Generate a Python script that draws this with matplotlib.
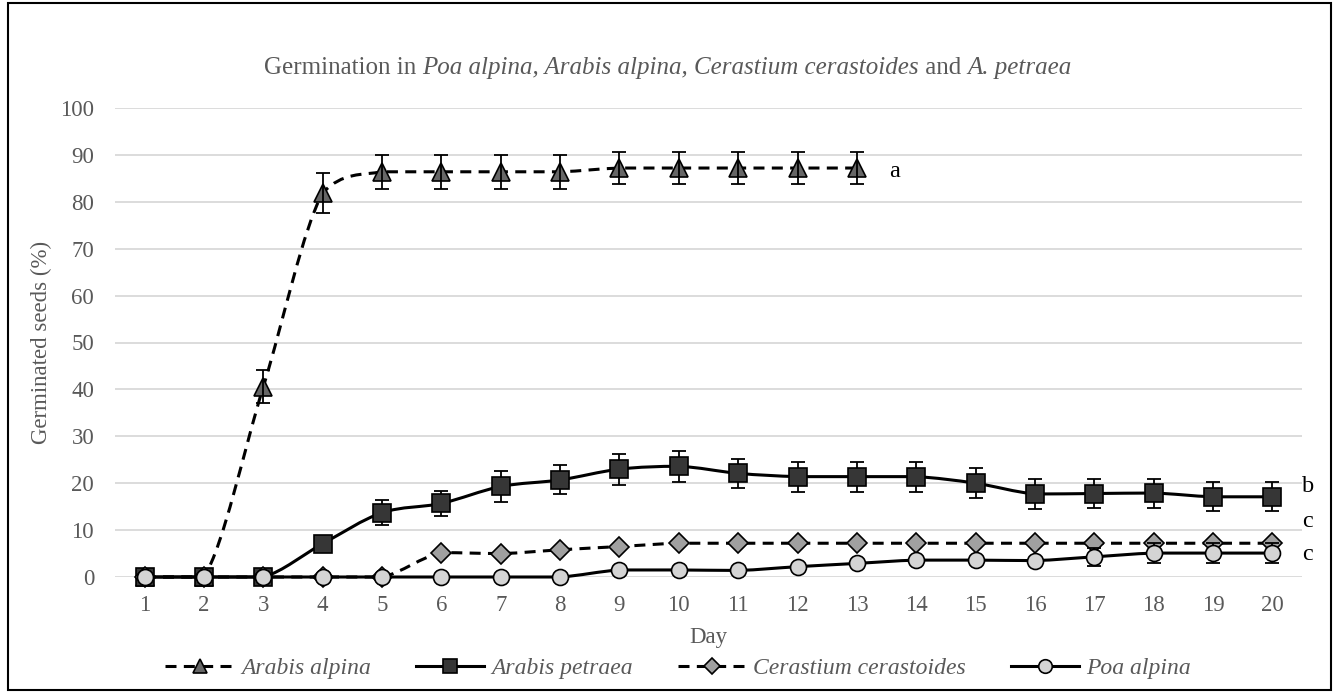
import numpy as np
import matplotlib
matplotlib.use("Agg")
import matplotlib.pyplot as plt
from matplotlib.path import Path
from matplotlib.patches import PathPatch, Rectangle
from matplotlib.lines import Line2D

plt.rcParams['font.family'] = ['Liberation Serif', 'DejaVu Serif']

GREY_TEXT = '#595959'
FS = 16.5

days = list(range(1, 21))

# Arabis alpina stops after day 13
alpina_days = list(range(1, 14))
alpina = [0, 0, 40.6, 81.9, 86.4, 86.4, 86.4, 86.4, 87.2, 87.2, 87.2, 87.2, 87.2]
alpina_err = [0, 0, 3.5, 4.3, 3.6, 3.6, 3.6, 3.6, 3.5, 3.5, 3.5, 3.5, 3.5]

petraea = [0, 0, 0, 7.1, 13.7, 15.7, 19.3, 20.7, 23.0, 23.6, 22.1, 21.4, 21.4,
           21.4, 20.0, 17.7, 17.8, 17.9, 17.1, 17.1]
petraea_err = [0, 0, 0, 0, 2.7, 2.7, 3.3, 3.1, 3.3, 3.3, 3.1, 3.2, 3.2,
               3.2, 3.2, 3.1, 3.1, 3.1, 3.1, 3.1]

cerastium = [0, 0, 0, 0, 0, 5.2, 5.0, 5.8, 6.5, 7.2, 7.2, 7.2, 7.2,
             7.2, 7.2, 7.2, 7.2, 7.2, 7.2, 7.2]
cerastium_err = [0] * 20

poa = [0, 0, 0, 0, 0, 0, 0, 0, 1.5, 1.5, 1.4, 2.2, 2.9,
       3.6, 3.6, 3.5, 4.3, 5.1, 5.1, 5.1]
poa_err = [0, 0, 0, 0, 0, 0, 0, 0, 0, 0, 0, 0, 0,
           0, 0, 0, 1.9, 2.2, 2.2, 2.2]

# letters from the significance test, (day position, height, letter)
sig_x = [13.55, 20.5, 20.5, 20.5]
sig_y = [86.5, 19.3, 11.8, 4.7]
sig_txt = ['a', 'b', 'c', 'c']

title_parts = [("Germination in ", 'normal'),
               ("Poa alpina, Arabis alpina, Cerastium cerastoides", 'italic'),
               (" and ", 'normal'),
               ("A. petraea", 'italic')]

series = [
    ("Arabis alpina", alpina_days, alpina, alpina_err, '^', '#666666', 'dashed'),
    ("Arabis petraea", days, petraea, petraea_err, 's', '#363636', 'solid'),
    ("Cerastium cerastoides", days, cerastium, cerastium_err, 'D', '#a0a0a0', 'dashed'),
    ("Poa alpina", days, poa, poa_err, 'o', '#d4d4d4', 'solid'),
]

MS = {'^': 12.5, 's': 12.5, 'D': 10, 'o': 11.5}
LW = 2.2
DASH = (0, (3.6, 2.4))


def smooth_path(xs, ys):
    # bezier through the points, control points kept inside each segment's y range
    pts = np.column_stack([xs, ys]).astype(float)
    n = len(pts)
    verts = [pts[0]]
    codes = [Path.MOVETO]
    for i in range(n - 1):
        p0 = pts[i - 1] if i > 0 else pts[i]
        p1 = pts[i]
        p2 = pts[i + 1]
        p3 = pts[i + 2] if i + 2 < n else pts[i + 1]
        c1 = p1 + (p2 - p0) / 6.0
        c2 = p2 - (p3 - p1) / 6.0
        lo, hi = min(p1[1], p2[1]), max(p1[1], p2[1])
        c1[1] = np.clip(c1[1], lo, hi)
        c2[1] = np.clip(c2[1], lo, hi)
        verts += [c1, c2, p2]
        codes += [Path.CURVE4] * 3
    return Path(verts, codes)


fig = plt.figure(figsize=(13.35, 6.93), dpi=100)
ax = fig.add_axes([115 / 1335, 116 / 693, 1187 / 1335, 469 / 693])

handles = []
for k, (name, xs, ys, err, mk, col, ls) in enumerate(series):
    z = 3 + k * 3
    patch = PathPatch(smooth_path(xs, ys), fill=False, edgecolor='black', lw=LW,
                      linestyle=DASH if ls == 'dashed' else 'solid',
                      capstyle='butt', zorder=z, clip_on=False)
    ax.add_patch(patch)
    ax.plot(xs, ys, ls='none', marker=mk, ms=MS[mk], mfc=col, mec='black',
            mew=1.2, zorder=z + 1, clip_on=False)
    ex = [x for x, e in zip(xs, err) if e > 0]
    ey = [y for y, e in zip(ys, err) if e > 0]
    ee = [e for e in err if e > 0]
    if ee:
        # triangles leave the bar visible, so draw those on top
        ez = z + 2 if mk == '^' else z + 0.5
        ax.errorbar(ex, ey, yerr=ee, fmt='none', ecolor='black', elinewidth=1.3,
                    capsize=5, capthick=1.3, zorder=ez, clip_on=False)
    handles.append(Line2D([], [], color='black', lw=LW,
                          linestyle=DASH if ls == 'dashed' else 'solid',
                          marker=mk, ms=MS[mk] * 0.85, mfc=col, mec='black',
                          mew=1.2, label=name))

for x, y, t in zip(sig_x, sig_y, sig_txt):
    ax.text(x, y, t, fontsize=FS + 1, color='black', ha='left', va='center',
            clip_on=False)

ax.set_xlim(0.5, 20.5)
ax.set_ylim(0, 100)
ax.set_xticks(days)
ax.set_yticks(range(0, 101, 10))
ax.grid(axis='y', color='#d9d9d9', lw=1.3, zorder=0)
ax.set_axisbelow(True)
for s in ax.spines.values():
    s.set_visible(False)
ax.tick_params(axis='both', length=0, labelsize=FS, labelcolor=GREY_TEXT)
ax.tick_params(axis='y', pad=15)
ax.tick_params(axis='x', pad=13)
ax.set_xlabel("Day", fontsize=FS, color=GREY_TEXT, labelpad=8)
ax.set_ylabel("Germinated seeds (%)", fontsize=FS, color=GREY_TEXT, labelpad=6)

# title with mixed upright / italic pieces, laid out left to right and centred
renderer = fig.canvas.get_renderer()
title_fs = 18
pieces = [fig.text(0, 1 - 68 / 693, s, fontsize=title_fs, style=st, color=GREY_TEXT,
                   ha='left', va='center') for s, st in title_parts]
widths = [p.get_window_extent(renderer).width for p in pieces]
x0 = (fig.bbox.width - sum(widths)) / 2
for p, w in zip(pieces, widths):
    p.set_x(x0 / fig.bbox.width)
    x0 += w

fig.legend(handles=handles, loc='center', bbox_to_anchor=(0.508, 1 - 668 / 693),
           ncol=4, frameon=False, handlelength=2.9, handletextpad=0.3,
           columnspacing=1.9,
           prop={'family': 'Liberation Serif', 'style': 'italic', 'size': FS + 0.5},
           labelcolor=GREY_TEXT)

fig.patches.append(Rectangle((8 / 1335, 3 / 693), 1323 / 1335, 687 / 693,
                             transform=fig.transFigure, fill=False,
                             edgecolor='black', lw=1.5))

fig.savefig("out.png", dpi=100)
